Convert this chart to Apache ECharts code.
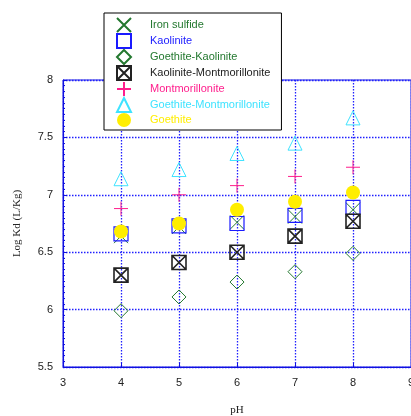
<!DOCTYPE html>
<html><head><meta charset="utf-8">
<script src="https://cdn.jsdelivr.net/npm/echarts@6/dist/echarts.min.js"></script>
<style>html,body{margin:0;padding:0;background:#fff;overflow:hidden;width:100%;height:100%}#c{width:100vw;height:100vh}</style>
</head><body><div id="c"></div>
<script>
const pH = [4, 5, 6, 7, 8];
const ironSulfide = [6.64, 6.72, 6.76, 6.81, 6.87];
const kaolinite = [6.66, 6.73, 6.75, 6.82, 6.89];
const goethiteKaolinite = [5.99, 6.11, 6.24, 6.33, 6.49];
const kaoliniteMontmorillonite = [6.30, 6.41, 6.50, 6.64, 6.77];
const montmorillonite = [6.88, 7.00, 7.08, 7.16, 7.24];
const goethiteMontmorillonite = [7.14, 7.22, 7.36, 7.45, 7.67];
const goethite = [6.68, 6.75, 6.87, 6.94, 7.02];

const GREEN = '#23782f', BLUE = '#1a1aff', BLACK = '#222', PINK = '#ff1e8c', CYAN = '#3ee3ff', YELLOW = '#ffee00';
const AXIS = '#1010e0';
const pts = arr => pH.map((x, i) => [x, arr[i]]);

const defs = [
  {name: 'Iron sulfide', data: ironSulfide, symbol: 'path://M0,0L10,10M0,10L10,0', color: GREEN, hollow: true, size: 14, bw: 1},
  {name: 'Kaolinite', data: kaolinite, symbol: 'rect', color: BLUE, hollow: true, size: 14, bw: 1.2},
  {name: 'Goethite-Kaolinite', data: goethiteKaolinite, symbol: 'diamond', color: GREEN, hollow: true, size: 14, bw: 1},
  {name: 'Kaolinite-Montmorillonite', data: kaoliniteMontmorillonite, symbol: 'path://M0,0L10,0L10,10L0,10ZM0,0L10,10M10,0L0,10', color: BLACK, hollow: true, size: 14, bw: 1.6},
  {name: 'Montmorillonite', data: montmorillonite, symbol: 'path://M5,0L5,10M0,5L10,5', color: PINK, hollow: true, size: 14, bw: 1},
  {name: 'Goethite-Montmorillonite', data: goethiteMontmorillonite, symbol: 'triangle', color: CYAN, hollow: true, size: 14, bw: 1},
  {name: 'Goethite', data: goethite, symbol: 'circle', color: YELLOW, hollow: false, size: 14, bw: 0}
];

const series = defs.map(d => ({
  type: 'scatter', name: d.name, data: pts(d.data), symbol: d.symbol, symbolSize: d.size,
  symbolKeepAspect: true,
  itemStyle: d.hollow ? {color: 'rgba(0,0,0,0)', borderColor: d.color, borderWidth: d.bw, opacity: 1}
                      : {color: d.color, opacity: 1},
  emphasis: {disabled: true}
}));

const chart = echarts.init(document.getElementById('c'), null, {renderer: 'canvas'});
chart.setOption({
  animation: false,
  backgroundColor: '#fff',
  textStyle: {fontFamily: 'Liberation Sans'},
  grid: {left: 63, top: 80, right: 0, bottom: 49, show: true, borderColor: AXIS, borderWidth: 1,
         outerBoundsMode: 'none', containLabel: false},
  legend: {
    orient: 'vertical', left: 104, top: 13, itemWidth: 14, itemHeight: 14, itemGap: 0,
    padding: [4, 11, 3, 12], backgroundColor: '#fff', borderColor: '#000', borderWidth: 1,
    selectedMode: false,
    textStyle: {fontSize: 11, fontFamily: 'Liberation Sans', padding: [0, 0, 0, 14]},
    data: defs.map(d => ({name: d.name, textStyle: {color: d.color}}))
  },
  xAxis: {
    type: 'value', min: 3, max: 9, interval: 1,
    name: 'pH', nameLocation: 'middle', nameGap: 38,
    nameTextStyle: {fontFamily: 'Liberation Serif', fontSize: 11, color: '#222'},
    axisLine: {lineStyle: {color: AXIS, width: 1}},
    axisTick: {inside: true, length: 4, lineStyle: {color: AXIS}},
    axisLabel: {color: '#222', fontSize: 11, margin: 10},
    splitLine: {show: true, lineStyle: {color: '#2020ff', type: [1.5, 1.5], width: 1.3}}
  },
  yAxis: {
    type: 'value', min: 5.5, max: 8, interval: 0.5,
    name: 'Log Kd (L/Kg)', nameLocation: 'middle', nameGap: 40,
    nameTextStyle: {fontFamily: 'Liberation Serif', fontSize: 11, color: '#222'},
    axisLine: {show: true, lineStyle: {color: AXIS, width: 1}},
    axisTick: {inside: true, length: 4, lineStyle: {color: AXIS}},
    minorTick: {show: true, splitNumber: 10, length: 2, lineStyle: {color: AXIS}},
    axisLabel: {color: '#222', fontSize: 11, margin: 10},
    splitLine: {show: true, lineStyle: {color: '#2020ff', type: [1.5, 1.5], width: 1.3}}
  },
  series
});
</script></body></html>
